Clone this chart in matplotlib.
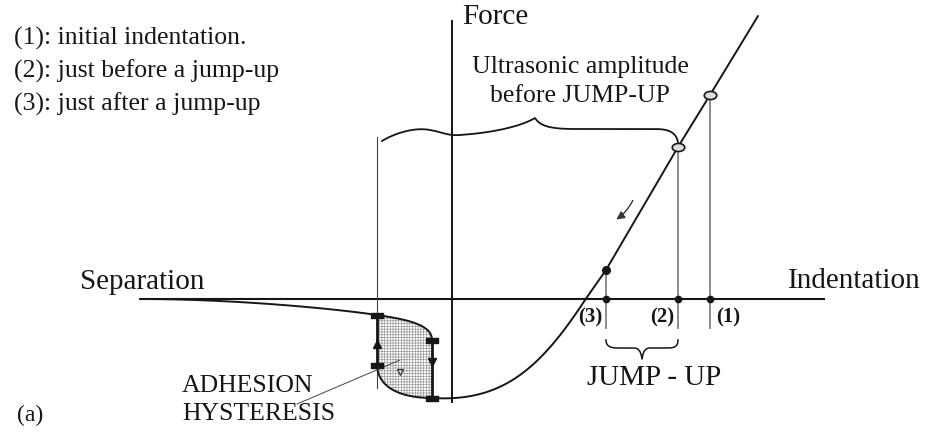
import numpy as np
import matplotlib
matplotlib.use("Agg")
import matplotlib.pyplot as plt
from matplotlib.path import Path
from matplotlib.patches import PathPatch
from matplotlib.transforms import Affine2D

# ---- drawing space (pixel-like units, y grows downward) ----
W, H = 951, 432

# ---- axes of the force / indentation diagram ----
axis_y = 299            # zero-force line
axis_x0, axis_x1 = 140, 825
force_x = 452           # force axis
force_y0, force_y1 = 20, 403

# ---- curve pieces (cubic Bezier control points) ----
tail = [(140, 299), (230, 299), (330, 308), (377, 315)]
hyst_upper = [(377, 315), (412, 320), (432, 326), (432, 340)]
hyst_lower = [(377, 365), (378, 390), (405, 398), (432, 398)]
bottom = [(432, 398), (500, 402), (538, 372), (585, 300)]
# loading line above the zero crossing
load_x = [585, 606, 678, 710, 758]
load_y = [300, 270, 147, 95, 16]

# ---- markers ----
state_x = [710, 678, 606]            # (1), (2), (3)
state_labels = ["(1)", "(2)", "(3)"]
label_x = [728, 662, 590]
guide_bottom = 328
hyst_x = [377, 432]
square_pts = [(377, 315), (432, 340), (377, 365), (432, 398)]

# ---- braces ----
big_brace = [
    [(382, 141), (395, 133), (415, 127), (430, 130)],
    [(430, 130), (442, 132), (448, 136), (460, 135)],
    [(460, 135), (490, 133), (520, 127), (535, 118)],
    [(535, 118), (540, 126), (550, 129), (575, 129)],
    [(575, 129), (605, 129), (630, 129), (655, 129)],
    [(655, 129), (670, 129), (676, 133), (678, 142)],
]
small_brace = [
    [(606, 340), (606, 346), (610, 348), (618, 348)],
    [(618, 348), (625, 348), (630, 348), (634, 348)],
    [(634, 348), (639, 348), (641, 352), (642, 359)],
    [(642, 359), (643, 352), (645, 348), (650, 348)],
    [(650, 348), (656, 348), (662, 348), (668, 348)],
    [(668, 348), (675, 348), (678, 346), (678, 340)],
]

legend_lines = ["(1): initial indentation.",
                "(2): just before a jump-up",
                "(3): just after a jump-up"]


def bezier(pts, n=60):
    p = np.asarray(pts, float)
    t = np.linspace(0, 1, n)[:, None]
    return ((1 - t) ** 3 * p[0] + 3 * (1 - t) ** 2 * t * p[1]
            + 3 * (1 - t) * t ** 2 * p[2] + t ** 3 * p[3])


def chain(segments):
    return np.vstack([bezier(s) for s in segments])


plt.rcParams["font.family"] = ["Liberation Serif", "DejaVu Serif"]
plt.rcParams["hatch.linewidth"] = 0.5

fig = plt.figure(figsize=(W / 100, H / 100), dpi=100)
ax = fig.add_axes([0, 0, 1, 1])
ax.set_xlim(0, W)
ax.set_ylim(H, 0)
ax.axis("off")

ink = "#161616"

# axes
ax.plot([axis_x0, axis_x1], [axis_y, axis_y], color=ink, lw=1.5, solid_capstyle="butt")
ax.plot([force_x, force_x], [force_y0, force_y1], color=ink, lw=1.4, solid_capstyle="butt")

# thin vertical guide at the left edge of the hysteresis loop
ax.plot([hyst_x[0], hyst_x[0]], [137, 388], color="#444444", lw=0.8)

# hatched hysteresis area
up = bezier(hyst_upper)
lo = bezier(hyst_lower)
loop = np.vstack([up, lo[::-1], up[:1]])
patch = PathPatch(Path(loop), facecolor="white", edgecolor="#9a9a9a",
                  hatch="++++++", lw=0, zorder=1.5)
ax.add_patch(patch)

# force curve
curve = np.vstack([bezier(tail), up])
ax.plot(curve[:, 0], curve[:, 1], color=ink, lw=1.4)
ax.plot([hyst_x[1], hyst_x[1]], [hyst_upper[-1][1], hyst_lower[-1][1]], color=ink, lw=2.0)
ax.plot([hyst_x[0], hyst_x[0]], [hyst_upper[0][1], hyst_lower[0][1]], color=ink, lw=2.0)
low_part = np.vstack([lo, bezier(bottom)])
ax.plot(low_part[:, 0], low_part[:, 1], color=ink, lw=1.4)
ax.plot(load_x, load_y, color=ink, lw=1.4, solid_capstyle="round")

# rectangular end markers of the loop
rect_marker = Path([(-1, -0.45), (1, -0.45), (1, 0.45), (-1, 0.45), (-1, -0.45)],
                   [Path.MOVETO, Path.LINETO, Path.LINETO, Path.LINETO, Path.CLOSEPOLY])
ax.plot([p[0] for p in square_pts], [p[1] for p in square_pts], ls="none",
        marker=rect_marker, ms=8, color=ink, zorder=4)

# loop direction arrows
ax.plot([hyst_x[0]], [344], marker="^", ms=6, color=ink)
ax.plot([hyst_x[1]], [362], marker="v", ms=6, color=ink)
ax.plot([400], [372], marker="v", ms=4.5, color="#333333", mfc="none", mew=0.9)

# guides from the states on the loading line down to the axis
for x in state_x:
    y_on = np.interp(x, load_x, load_y)
    ax.plot([x, x], [y_on, guide_bottom], color="#8c8c8c", lw=1.4, zorder=1)
    ax.plot([x], [axis_y], marker="o", ms=4.5, color=ink, zorder=4)

ell_marker = Path.unit_circle().transformed(Affine2D().scale(1, 0.65))
for x in state_x[:2]:
    ax.plot([x], [np.interp(x, load_x, load_y)], marker=ell_marker, ms=9,
            mfc="#dddddd", mec=ink, mew=1.2, zorder=5)
ax.plot([state_x[2]], [np.interp(state_x[2], load_x, load_y)], marker="o", ms=5.5,
        color=ink, zorder=5)

# unloading direction arrow
ax.annotate("", xy=(614, 221), xytext=(634, 198),
            arrowprops=dict(arrowstyle="-|>", color="#333333", lw=1.0,
                            mutation_scale=12, connectionstyle="arc3,rad=-0.15"))

# braces
bb = chain(big_brace)
ax.plot(bb[:, 0], bb[:, 1], color=ink, lw=1.3)
sb = chain(small_brace)
ax.plot(sb[:, 0], sb[:, 1], color=ink, lw=1.1)

# leader for the hysteresis label
ax.plot([297, 400], [404, 360], color="#444444", lw=0.7)

# texts
big = 21
mid = 18.5
ax.text(462, 24, "Force", fontsize=big, ha="left", va="baseline", color=ink)
ax.text(80, 289, "Separation", fontsize=big, ha="left", va="baseline", color=ink)
ax.text(788, 288, "Indentation", fontsize=big, ha="left", va="baseline", color=ink)
ax.text(580, 73, "Ultrasonic amplitude", fontsize=mid, ha="center", va="baseline", color=ink)
ax.text(580, 102, "before JUMP-UP", fontsize=mid, ha="center", va="baseline", color=ink)
ax.text(654, 385, "JUMP - UP", fontsize=big, ha="center", va="baseline", color=ink)
ax.text(182, 392, "ADHESION", fontsize=mid, ha="left", va="baseline", color=ink)
ax.text(182, 420, "HYSTERESIS", fontsize=mid, ha="left", va="baseline", color=ink)
ax.text(17, 421, "(a)", fontsize=17, ha="left", va="baseline", color=ink)

for x, s in zip(label_x, state_labels):
    ax.text(x, 322, s, fontsize=15, fontweight="bold", ha="center", va="baseline", color=ink)

for i, s in enumerate(legend_lines):
    ax.text(14, 45 + 33 * i, s, fontsize=mid, ha="left", va="baseline", color=ink)

fig.savefig("out.png", dpi=100, facecolor="white")
